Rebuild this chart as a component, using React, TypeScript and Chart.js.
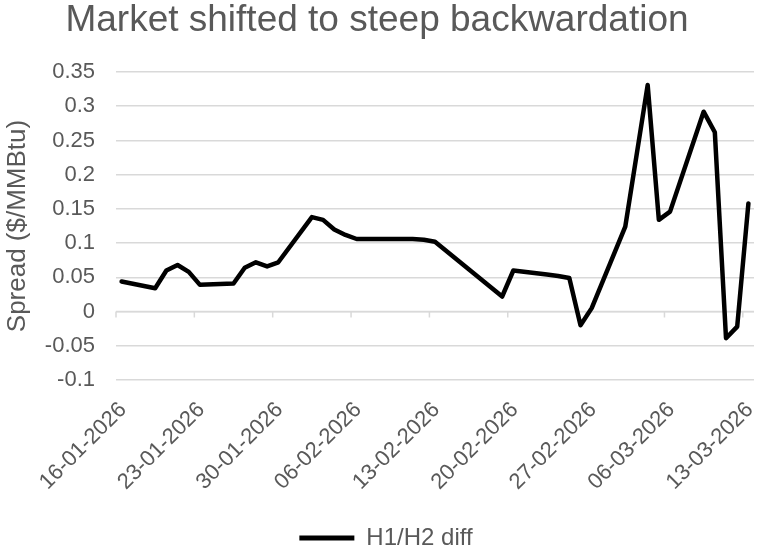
import React, { useEffect, useRef } from "react";
import { Chart, registerables } from "chart.js";

Chart.register(...registerables);

const TITLE = "Market shifted to steep backwardation";
const Y_TITLE = "Spread ($/MMBtu)";
const SERIES_LABEL = "H1/H2 diff";
const START_DATE = "16-01-2026";
const YEAR = 2026;

// Trading dates (DD-MM) and H1/H2 spread values
const DATES = [
  "16-01", "19-01", "20-01", "21-01", "22-01", "23-01",
  "26-01", "27-01", "28-01", "29-01", "30-01",
  "02-02", "03-02", "04-02", "05-02", "06-02",
  "09-02", "10-02", "11-02", "12-02", "13-02",
  "19-02", "20-02",
  "23-02", "24-02", "25-02", "26-02", "27-02",
  "02-03", "04-03", "05-03", "06-03",
  "09-03", "10-03", "11-03", "12-03", "13-03",
];
const SPREAD = [
  0.044, 0.034, 0.060, 0.068, 0.058, 0.039,
  0.041, 0.064, 0.072, 0.066, 0.072,
  0.138, 0.134, 0.120, 0.112, 0.106,
  0.106, 0.106, 0.106, 0.105, 0.102,
  0.022, 0.060,
  0.054, 0.052, 0.049, -0.020, 0.005,
  0.124, 0.331, 0.134, 0.146,
  0.292, 0.262, -0.039, -0.022, 0.158,
];

const Y_MIN = -0.1;
const Y_MAX = 0.35;
const Y_STEP = 0.05;
const X_DAYS = 57;
const X_STEP = 7;

const GREY = "#595959";
const GRID = "#d9d9d9";
const FONT = "'Liberation Sans', Arial, sans-serif";

const DAY_MS = 86400000;
function parseDate(s: string): number {
  const [d, m] = s.split("-").map(Number);
  return Date.UTC(YEAR, m - 1, d);
}
const BASE = (() => {
  const [d, m, y] = START_DATE.split("-").map(Number);
  return Date.UTC(y, m - 1, d);
})();
function dayOffset(s: string): number {
  return Math.round((parseDate(s) - BASE) / DAY_MS);
}
function fmtDay(v: number): string {
  const dt = new Date(BASE + Math.round(v) * DAY_MS);
  const dd = String(dt.getUTCDate()).padStart(2, "0");
  const mm = String(dt.getUTCMonth() + 1).padStart(2, "0");
  return `${dd}-${mm}-${dt.getUTCFullYear()}`;
}

const zeroAxis = {
  id: "zeroAxis",
  afterLayout(chart: any) {
    if (chart.legend) {
      chart.legend.left += 9;
      chart.legend.right += 9;
    }
  },
  beforeDatasetsDraw(chart: any) {
    const { ctx, chartArea, scales } = chart;
    const x = scales.x;
    const y = scales.y;
    const py = y.getPixelForValue(0);
    ctx.save();
    ctx.strokeStyle = GRID;
    ctx.lineWidth = 1.5;
    ctx.beginPath();
    ctx.moveTo(chartArea.left, py);
    ctx.lineTo(chartArea.right, py);
    x.ticks.forEach((t: any) => {
      const px = x.getPixelForValue(t.value);
      ctx.moveTo(px, py);
      ctx.lineTo(px, py + 6);
    });
    ctx.stroke();
    ctx.restore();
  },
};

export default function App() {
  const ref = useRef<HTMLCanvasElement>(null);

  useEffect(() => {
    if (!ref.current) return;
    Chart.defaults.font.family = FONT;
    const points = DATES.map((d, i) => ({ x: dayOffset(d) + 0.5, y: SPREAD[i] }));

    const chart = new Chart(ref.current, {
      type: "line",
      data: {
        datasets: [
          {
            label: SERIES_LABEL,
            data: points,
            borderColor: "#000000",
            backgroundColor: "#000000",
            borderWidth: 4.5,
            borderJoinStyle: "round",
            borderCapStyle: "round",
            pointRadius: 0,
            tension: 0,
          },
        ],
      },
      options: {
        responsive: false,
        animation: false,
        layout: { padding: { left: 0, right: 6, top: 0, bottom: -4 } },
        plugins: {
          title: {
            display: true,
            text: TITLE,
            color: GREY,
            font: { size: 37, weight: "normal", lineHeight: 1 },
            padding: { top: 2, bottom: 33 },
          },
          legend: {
            position: "bottom",
            labels: {
              color: GREY,
              font: { size: 24 },
              boxWidth: 55,
              boxHeight: 5,
              padding: 10,
              generateLabels: (c: any) =>
                Chart.defaults.plugins.legend.labels
                  .generateLabels(c)
                  .map((l: any) => ({ ...l, lineWidth: 0, fillStyle: "#000000" })),
            },
          },
          tooltip: { enabled: false },
        },
        scales: {
          x: {
            type: "linear",
            min: 0,
            max: X_DAYS,
            afterFit: (s: any) => {
              s.height = 136;
              s.paddingRight = 0;
              s.paddingLeft = 0;
            },
            grid: { display: false, drawTicks: false },
            border: { display: false },
            ticks: {
              stepSize: X_STEP,
              includeBounds: false,
              autoSkip: false,
              minRotation: 45,
              maxRotation: 45,
              padding: 17,
              labelOffset: 7,
              color: GREY,
              font: { size: 22 },
              callback: (v: any) => fmtDay(Number(v)),
            },
          },
          y: {
            min: Y_MIN,
            max: Y_MAX,
            afterFit: (s: any) => {
              s.width = 116;
            },
            grid: { color: GRID, lineWidth: 1.5, drawTicks: false },
            border: { display: false },
            title: {
              display: true,
              text: Y_TITLE,
              color: GREY,
              font: { size: 26 },
              padding: { top: 2.4, bottom: 0 },
            },
            ticks: {
              stepSize: Y_STEP,
              padding: 21,
              color: GREY,
              font: { size: 22 },
              callback: (v: any) => String(Number(Number(v).toFixed(2))),
            },
          },
        },
      },
      plugins: [zeroAxis],
    } as any);

    return () => chart.destroy();
  }, []);

  return (
    <div style={{ position: "fixed", left: 0, top: 0, width: 760, height: 556, background: "#fff" }}>
      <canvas ref={ref} width={760} height={556} style={{ display: "block" }} />
    </div>
  );
}
